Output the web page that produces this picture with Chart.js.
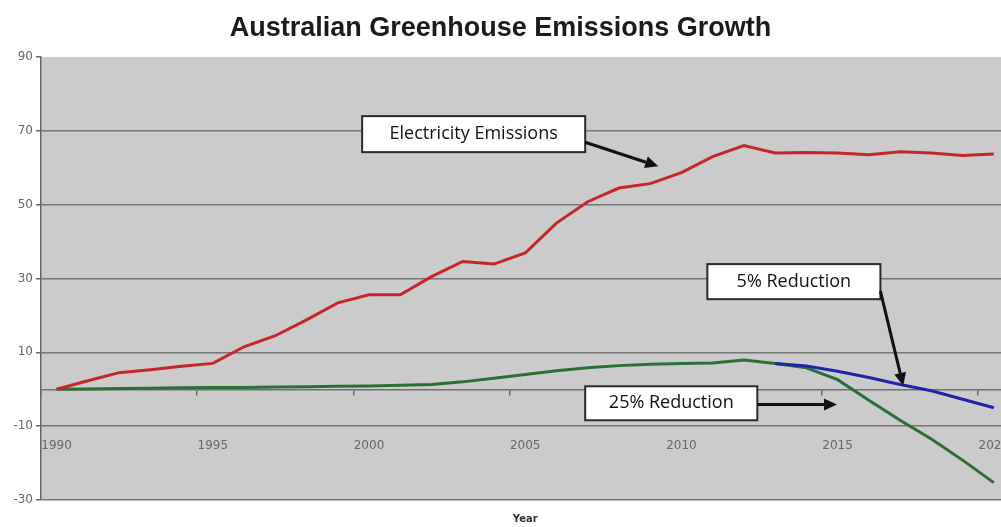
<!DOCTYPE html>
<html>
<head>
<meta charset="utf-8">
<script src="https://cdn.jsdelivr.net/npm/chart.js@4.4.1/dist/chart.umd.min.js"></script>
<style>
  html, body { margin: 0; padding: 0; background: #fff; overflow: hidden; }
</style>
</head>
<body>
<canvas id="lineChart" width="1001" height="527"></canvas>
<script>
// years on the category axis
var years = [1990, 1991, 1992, 1993, 1994, 1995, 1996, 1997, 1998, 1999,
             2000, 2001, 2002, 2003, 2004, 2005, 2006, 2007, 2008, 2009,
             2010, 2011, 2012, 2013, 2014, 2015, 2016, 2017, 2018, 2019, 2020];

// Electricity emissions (red)
var electricity = [0, 2.3, 4.5, 5.3, 6.2, 7.0, 11.5, 14.5, 18.8, 23.4,
                   25.6, 25.6, 30.5, 34.6, 33.9, 36.9, 45.0, 50.8, 54.5, 55.7,
                   58.7, 63.0, 66.0, 64.0, 64.1, 64.0, 63.5, 64.3, 64.0, 63.3, 63.7];

// total growth, continuing as the 25% reduction path (green)
var reduction25 = [0, 0.1, 0.2, 0.3, 0.4, 0.5, 0.5, 0.6, 0.7, 0.8,
                   0.9, 1.1, 1.3, 2.0, 3.0, 4.0, 5.0, 5.8, 6.4, 6.8,
                   7.0, 7.1, 7.9, 7.0, 5.8, 2.6, -3.0, -8.4, -13.5, -19.2, -25.3];

// 5% reduction path (blue), branches off in 2013
var reduction5Years = [2013, 2014, 2015, 2016, 2017, 2018, 2019, 2020];
var reduction5 = [7.0, 6.3, 4.9, 3.2, 1.3, -0.4, -2.7, -5.0];

// tick labels
var yTicks = [-30, -10, 10, 30, 50, 70, 90];
var xTickYears = [1990, 1995, 2000, 2005, 2010, 2015, 2020];

// callout boxes: text, box corners and arrow (year, value)
var notes = [
  { text: 'Electricity Emissions', box: [1999.78, 73.98, 2006.92, 64.23], from: [2006.92, 66.9], to: [2009.26, 60.4] },
  { text: '5% Reduction', box: [2010.83, 33.9, 2016.37, 24.4], from: [2016.37, 26.6], to: [2017.1, 0.95] },
  { text: '25% Reduction', box: [2006.92, 0.8, 2012.43, -8.4], from: [2012.43, -4.1], to: [2014.98, -4.1] }
];

function toPoints(xs, ys) {
  return xs.map(function(x, i) { return { x: x, y: ys[i] }; });
}

// grey plot area
var plotBackground = {
  id: 'plotBackground',
  beforeDraw: function(chart) {
    var a = chart.chartArea, ctx = chart.ctx;
    ctx.save();
    ctx.fillStyle = '#cbcbcb';
    ctx.fillRect(a.left, a.top, a.right - a.left, a.bottom - a.top);
    ctx.restore();
  }
};

function drawArrow(ctx, x1, y1, x2, y2) {
  var ang = Math.atan2(y2 - y1, x2 - x1);
  var head = 13, half = 6;
  var bx = x2 - head * Math.cos(ang), by = y2 - head * Math.sin(ang);
  ctx.beginPath();
  ctx.moveTo(x1, y1);
  ctx.lineTo(bx, by);
  ctx.lineWidth = 3;
  ctx.strokeStyle = '#111';
  ctx.stroke();
  ctx.beginPath();
  ctx.moveTo(x2, y2);
  ctx.lineTo(bx + half * Math.sin(ang), by - half * Math.cos(ang));
  ctx.lineTo(bx - half * Math.sin(ang), by + half * Math.cos(ang));
  ctx.closePath();
  ctx.fillStyle = '#111';
  ctx.fill();
}

var callouts = {
  id: 'callouts',
  afterDatasetsDraw: function(chart) {
    var ctx = chart.ctx, xs = chart.scales.x, ys = chart.scales.y;
    ctx.save();
    notes.forEach(function(n) {
      var x1 = xs.getPixelForValue(n.box[0]), y1 = ys.getPixelForValue(n.box[1]);
      var x2 = xs.getPixelForValue(n.box[2]), y2 = ys.getPixelForValue(n.box[3]);
      ctx.fillStyle = '#fff';
      ctx.fillRect(x1, y1, x2 - x1, y2 - y1);
      ctx.lineWidth = 2;
      ctx.strokeStyle = '#2a2a2a';
      ctx.strokeRect(x1, y1, x2 - x1, y2 - y1);
      ctx.fillStyle = '#111';
      ctx.font = '18px "Open Sans"';
      ctx.textAlign = 'center';
      ctx.textBaseline = 'middle';
      ctx.fillText(n.text, (x1 + x2) / 2, (y1 + y2) / 2);
      drawArrow(ctx, xs.getPixelForValue(n.from[0]), ys.getPixelForValue(n.from[1]),
                xs.getPixelForValue(n.to[0]), ys.getPixelForValue(n.to[1]));
    });
    ctx.restore();
  },
  afterDraw: function(chart) {
    // axis title under the plot
    var ctx = chart.ctx, xs = chart.scales.x;
    ctx.save();
    ctx.font = 'bold 10px "DejaVu Sans"';
    ctx.fillStyle = '#333';
    ctx.textAlign = 'center';
    ctx.textBaseline = 'middle';
    ctx.fillText('Year', xs.getPixelForValue(2005), chart.chartArea.bottom + 19);
    ctx.restore();
  }
};

var lineChart = document.getElementById('lineChart');
var myLineChart = new Chart(lineChart, {
  type: 'line',
  data: {
    datasets: [
      {
        label: '5% Reduction',
        data: toPoints(reduction5Years, reduction5),
        borderColor: '#2323a8',
        borderWidth: 3,
        pointRadius: 0,
        tension: 0,
        fill: false,
        order: 1
      },
      {
        label: 'Electricity Emissions',
        data: toPoints(years, electricity),
        borderColor: '#c4262c',
        borderWidth: 3,
        pointRadius: 0,
        tension: 0,
        fill: false,
        order: 2
      },
      {
        label: '25% Reduction',
        data: toPoints(years, reduction25),
        borderColor: '#2b6f37',
        borderWidth: 3,
        pointRadius: 0,
        tension: 0,
        fill: false,
        order: 3
      }
    ]
  },
  options: {
    responsive: false,
    animation: false,
    devicePixelRatio: 1,
    layout: { padding: { left: 0, right: 0, top: 0, bottom: 27 } },
    plugins: {
      legend: { display: false },
      tooltip: { enabled: false },
      title: {
        display: true,
        text: 'Australian Greenhouse Emissions Growth',
        color: '#1b1b1b',
        font: { family: '"Liberation Sans", Arial, sans-serif', size: 27, weight: 'bold', lineHeight: 1 },
        padding: { top: 15, bottom: 15 }
      }
    },
    scales: {
      x: {
        type: 'linear',
        position: { y: 0 },
        min: 1989.5,
        max: 2020.23,
        afterBuildTicks: function(scale) {
          scale.ticks = xTickYears.map(function(y) { return { value: y - 0.5 }; });
        },
        afterFit: function(scale) {
          scale.paddingLeft = 0;
          scale.paddingRight = 0;
        },
        grid: { drawOnChartArea: false, tickLength: 5, tickColor: '#666', lineWidth: 1.5 },
        border: { color: '#707070', width: 1.5 },
        ticks: {
          autoSkip: false,
          maxRotation: 0,
          labelOffset: 15.6,
          padding: 44,
          color: '#666',
          font: { family: '"DejaVu Sans"', size: 12 },
          callback: function(value) { return String(value + 0.5); }
        }
      },
      y: {
        min: -30,
        max: 90,
        afterFit: function(scale) { scale.width = 41; },
        afterBuildTicks: function(scale) {
          scale.ticks = yTicks.map(function(v) { return { value: v }; });
        },
        grid: {
          color: function(c) { return c.tick && c.tick.value === 90 ? 'rgba(0,0,0,0)' : '#767676'; },
          lineWidth: 1.5,
          tickLength: 5,
          tickColor: '#666'
        },
        border: { color: '#666', width: 1.5 },
        ticks: {
          padding: 3,
          color: '#666',
          font: { family: '"DejaVu Sans"', size: 12 }
        }
      }
    }
  },
  plugins: [plotBackground, callouts]
});
</script>
</body>
</html>
